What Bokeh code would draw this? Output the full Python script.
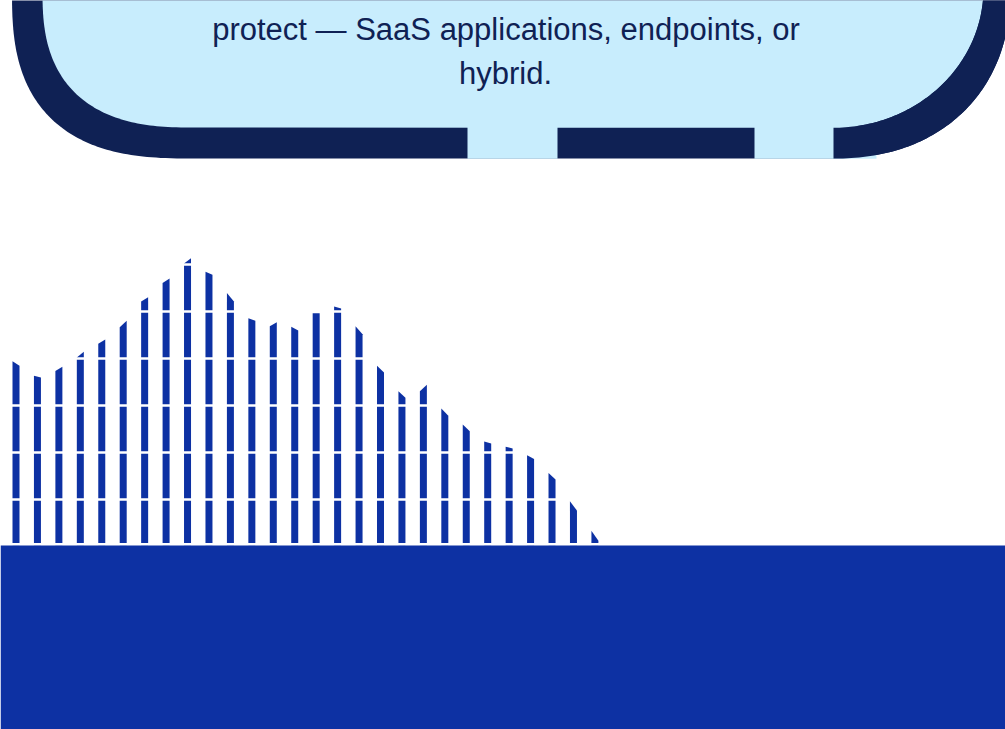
import numpy as np
from bokeh.plotting import figure
from bokeh.models import Range1d
from bokeh.embed import file_html
from bokeh.resources import INLINE
from bokeh.core.properties import value

# ---------------- data ----------------
periods = list(range(1, 29))
top_left = [39.5, 36.4, 37.4, 40.3, 43.2, 46.7, 52.2, 56.1, 60.3, 58.5,
            54.0, 48.6, 46.9, 46.8, 49.7, 51.1, 46.9, 38.5, 33.1, 33.1,
            29.4, 26.0, 22.4, 21.3, 19.5, 15.7, 9.7, 3.4]
top_right = [38.5, 36.0, 38.3, 41.5, 44.1, 48.1, 53.1, 57.1, 61.4, 57.9,
             52.2, 48.1, 47.8, 46.0, 49.7, 50.7, 45.2, 37.1, 31.7, 34.5,
             27.9, 24.6, 22.0, 20.9, 18.7, 14.3, 7.7, 1.3]
grid_levels = [0, 10, 20, 30, 40, 50, 60]
caption_lines = ["protect \u2014 SaaS applications, endpoints, or", "hybrid."]

# ---------------- style ----------------
NAVY = "#0F2154"
LIGHT = "#C8EDFD"
BLUE = "#0D31A3"

W, H = 1005, 729
p = figure(width=W, height=H, output_backend="svg", toolbar_location=None,
           x_range=Range1d(-0.723, 46.15), y_range=Range1d(-38.87, 116.23),
           x_axis_location=None, y_axis_location=None, min_border=0,
           outline_line_color=None, background_fill_color="white",
           border_fill_color="white")
p.grid.visible = False
# decoration coordinate system in page pixels (y downward)
p.extra_x_ranges = {"px": Range1d(0, 1005)}
p.extra_y_ranges = {"py": Range1d(729, 0)}
deco = dict(x_range_name="px", y_range_name="py")


def superellipse(cx, cy, a, b, n, side, t0, t1, num=80):
    t = np.linspace(t0, t1, num)
    c = np.abs(np.cos(t)) ** (2.0 / n)
    s = np.abs(np.sin(t)) ** (2.0 / n)
    xs = cx + side * a * c
    ys = cy + b * s
    return list(xs), list(ys)

# ---------------- top decorative frame ----------------
lox, loy = superellipse(193, -10, 181.5, 168, 2.7, -1, 0, np.pi / 2)
rox, roy = superellipse(833, -12, 177, 170, 2.2, 1, np.pi / 2, 0)
outer_x = lox + rox + [rox[-1], lox[0]]
outer_y = loy + roy + [-40, -40]
p.patch(outer_x, outer_y, fill_color=NAVY, line_color=None, **deco)

lix, liy = superellipse(193, -10, 151, 137, 2.6, -1, 0, np.pi / 2)
rix, riy = superellipse(833, -12, 150, 139.3, 2.0, 1, np.pi / 2, 0)
inner_x = lix + rix + [rix[-1], lix[0]]
inner_y = liy + riy + [-40, -40]
p.patch(inner_x, inner_y, fill_color=LIGHT, line_color=None, **deco)

# gaps of the dashed bottom border
p.quad(left=[467, 754], right=[557, 876], top=[126, 126], bottom=[158.3, 158.3],
       fill_color=LIGHT, line_color=None, **deco)
# right corner wedge of the border
wx = rox + rix[::-1]
wy = roy + riy[::-1]
p.patch(wx, wy, fill_color=NAVY, line_color=None, **deco)

p.text(x=[505.5, 505], y=[29.2, 72.5], text=caption_lines,
       text_align="center", text_baseline="alphabetic",
       text_font=value("Liberation Sans"), text_font_size="31px",
       text_color=NAVY, **deco)

# ---------------- striped area chart ----------------
bw = 0.3265
idx = [i - 1 for i in periods]
xs = [[i - bw / 2, i - bw / 2, i + bw / 2, i + bw / 2] for i in idx]
ys = [[0, l, r, 0] for l, r in zip(top_left, top_right)]
p.patches(xs, ys, fill_color=BLUE, line_color=None)

p.hspan(y=grid_levels, line_color="white", line_width=2.7)

# white band above the floor block and the floor block itself
p.quad(left=[0], right=[1010], top=[542.5], bottom=[545],
       fill_color="white", line_color=None, **deco)
p.quad(left=[0], right=[1010], top=[545], bottom=[740],
       fill_color=BLUE, line_color=None, **deco)

open("out.html", "w").write(file_html(p, INLINE))
